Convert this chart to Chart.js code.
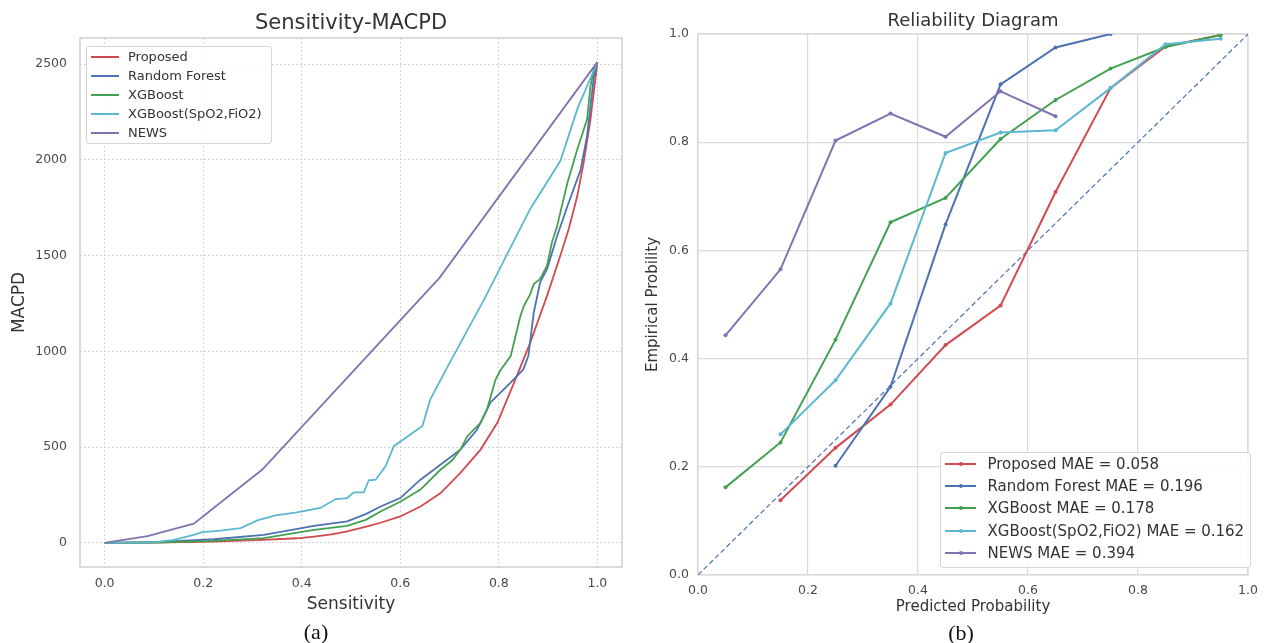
<!DOCTYPE html>
<html><head><meta charset="utf-8">
<script src="https://cdn.jsdelivr.net/npm/chart.js@4.4.1/dist/chart.umd.min.js"></script>
<style>
html,body{margin:0;padding:0;background:#fff;width:1266px;height:643px;overflow:hidden;font-family:"DejaVu Sans",sans-serif;}
.box{position:absolute;}
.leg{position:absolute;box-sizing:border-box;border:1px solid #d6d6d6;border-radius:3px;background:rgba(255,255,255,0.85);}
.item{position:absolute;left:0;right:0;color:#333;white-space:nowrap;}
.sw{position:absolute;}
.dot{position:absolute;border-radius:50%;}
.cap{position:absolute;font-family:"Liberation Serif","DejaVu Serif",serif;font-size:22px;color:#111;transform:translate(-50%,-50%);}
</style></head><body>
<div class="box" style="left:0;top:0;width:640px;height:622px"><canvas id="c1"></canvas></div>
<div class="box" style="left:640px;top:0;width:626px;height:622px"><canvas id="c2"></canvas></div>
<div id="leg1" class="leg" style="left:86px;top:46px;width:186px;height:98px"></div>
<div id="leg2" class="leg" style="left:940px;top:452px;width:311px;height:116px"></div>
<div class="cap" style="left:316px;top:632px">(a)</div>
<div class="cap" style="left:961px;top:633px">(b)</div>
<script>
// ---- data ----
const seriesNames = ['Proposed', 'Random Forest', 'XGBoost', 'XGBoost(SpO2,FiO2)', 'NEWS'];
const maeValues = ['0.058', '0.196', '0.178', '0.162', '0.394'];
const seriesColors = ['#D04A50', '#4C72B0', '#42A150', '#5BB8D0', '#8172B2'];

const sensTicks = [0, 0.2, 0.4, 0.6, 0.8, 1.0];
const macpdTicks = [0, 500, 1000, 1500, 2000, 2500];
const probTicks = [0, 0.2, 0.4, 0.6, 0.8, 1.0];

// Sensitivity-MACPD curves: [sensitivity, MACPD]
const macpdProposed = [[0,0],[0.1,2],[0.22,7],[0.32,16],[0.39,24],[0.425,33],[0.46,44],[0.49,59],[0.533,86],[0.56,105],[0.6,138],[0.641,190],[0.682,260],[0.722,365],[0.763,487],[0.797,627],[0.83,830],[0.864,1047],[0.898,1291],[0.925,1500],[0.942,1640],[0.959,1808],[0.972,1983],[0.986,2210],[1.0,2510]];
const macpdRF = [[0,0],[0.1,4],[0.222,19],[0.323,42],[0.425,89],[0.492,112],[0.53,150],[0.56,190],[0.6,234],[0.641,330],[0.682,409],[0.722,487],[0.756,592],[0.783,733],[0.824,837],[0.85,907],[0.86,977],[0.871,1204],[0.884,1361],[0.898,1431],[0.918,1600],[0.939,1756],[0.966,1948],[0.979,2123],[0.993,2437],[1.0,2510]];
const macpdXGB = [[0,0],[0.1,2],[0.222,10],[0.323,25],[0.425,68],[0.492,89],[0.53,120],[0.56,164],[0.6,215],[0.641,278],[0.682,383],[0.705,430],[0.722,487],[0.736,557],[0.763,627],[0.776,697],[0.793,850],[0.803,900],[0.824,975],[0.834,1080],[0.844,1186],[0.851,1238],[0.864,1300],[0.871,1352],[0.884,1378],[0.898,1448],[0.908,1571],[0.918,1650],[0.939,1878],[0.959,2053],[0.979,2210],[0.986,2385],[0.993,2472],[1.0,2510]];
const macpdXGBSp = [[0,0],[0.1,3],[0.14,16],[0.181,42],[0.198,56],[0.235,64],[0.276,77],[0.31,117],[0.347,143],[0.39,159],[0.438,182],[0.469,229],[0.492,234],[0.506,264],[0.526,264],[0.536,327],[0.55,330],[0.56,365],[0.57,400],[0.587,505],[0.645,610],[0.661,750],[0.695,915],[0.77,1270],[0.864,1745],[0.925,1995],[0.96,2270],[1.0,2510]];
const macpdNEWS = [[0,0],[0.087,35],[0.181,100],[0.32,383],[0.68,1385],[1.0,2510]];

// Reliability diagram: bin centers and empirical probability
const binCenters = [0.05, 0.15, 0.25, 0.35, 0.45, 0.55, 0.65, 0.75, 0.85, 0.95];
const relProposed = [null, 0.138, 0.235, 0.315, 0.425, 0.498, 0.708, 0.90, 0.977, 0.998];
const relRF = [null, null, 0.202, 0.348, 0.648, 0.907, 0.975, 1.0, null, null];
const relXGB = [0.162, 0.245, 0.435, 0.652, 0.697, 0.806, 0.878, 0.936, 0.976, 0.998];
const relXGBSp = [null, 0.26, 0.36, 0.502, 0.78, 0.818, 0.822, 0.90, 0.981, 0.991];
const relNEWS = [0.443, 0.565, 0.803, 0.853, 0.81, 0.894, 0.848, null, null, null];
const perfectCalib = [0, 1];

// ---- helpers ----
const FONT = '"DejaVu Sans", sans-serif';
const pairs = a => a.map(p => ({x: p[0], y: p[1]}));
const bins = a => binCenters.map((x, i) => ({x, y: a[i]})).filter(p => p.y !== null);

const framePlugin = {
  id: 'frame',
  beforeDatasetsDraw(chart, args, opts) {
    const {ctx, chartArea: a} = chart;
    ctx.save();
    ctx.strokeStyle = opts.color; ctx.lineWidth = opts.width;
    ctx.strokeRect(a.left, a.top, a.right - a.left, a.bottom - a.top);
    ctx.restore();
  }
};

// ---- left chart ----
const macpdSeries = [macpdProposed, macpdRF, macpdXGB, macpdXGBSp, macpdNEWS];
new Chart(document.getElementById('c1'), {
  type: 'line',
  data: {
    datasets: macpdSeries.map((s, i) => ({
      label: seriesNames[i], data: pairs(s), borderColor: seriesColors[i], backgroundColor: seriesColors[i],
      borderWidth: 1.8, pointRadius: 0, tension: 0, fill: false, order: 5 - i
    }))
  },
  options: {
    responsive: true, maintainAspectRatio: false, animation: false, devicePixelRatio: 1,
    layout: {padding: {left: 0, right: 18, top: 0, bottom: 0}},
    plugins: {
      legend: {display: false}, tooltip: {enabled: false},
      title: {display: true, fullSize: false, text: 'Sensitivity-MACPD', color: '#333', font: {family: FONT, size: 21, weight: 'normal'}, padding: {top: 11, bottom: 1.8}},
      frame: {color: '#cfcfcf', width: 1.5}
    },
    scales: {
      x: {
        type: 'linear', min: -0.05, max: 1.05,
        afterBuildTicks: s => { s.ticks = sensTicks.map(v => ({value: v})); },
        afterFit: s => { s.height = 55; },
        ticks: {color: '#4a4a4a', font: {family: FONT, size: 12.5}, padding: 9, maxRotation: 0, callback: v => Number(v).toFixed(1)},
        grid: {color: '#d4d4d4', lineWidth: 1, drawTicks: false},
        border: {display: false, dash: [2, 2]},
        title: {display: true, text: 'Sensitivity', color: '#333', font: {family: FONT, size: 17}, padding: {top: 7, bottom: 7}}
      },
      y: {
        type: 'linear', min: -126, max: 2636,
        afterBuildTicks: s => { s.ticks = macpdTicks.map(v => ({value: v})); },
        afterFit: s => { s.width = 80; },
        ticks: {color: '#4a4a4a', font: {family: FONT, size: 12.5}, padding: 13, callback: v => String(v)},
        grid: {color: '#d4d4d4', lineWidth: 1, drawTicks: false},
        border: {display: false, dash: [2, 2]},
        title: {display: true, text: 'MACPD', color: '#333', font: {family: FONT, size: 17}, padding: {top: 9, bottom: 9}}
      }
    }
  },
  plugins: [framePlugin]
});

// ---- right chart ----
const relSeries = [relProposed, relRF, relXGB, relXGBSp, relNEWS];
const relDatasets = relSeries.map((s, i) => ({
  label: seriesNames[i] + ' MAE = ' + maeValues[i], data: bins(s), borderColor: seriesColors[i], backgroundColor: seriesColors[i],
  borderWidth: 2, pointRadius: 2, pointBorderWidth: 0, pointHoverRadius: 2, tension: 0, fill: false, order: 5 - i
}));
relDatasets.push({
  label: 'Perfectly calibrated', data: perfectCalib.map(v => ({x: v, y: v})), borderColor: '#4C72B0',
  borderWidth: 1.2, borderDash: [5, 3], pointRadius: 0, tension: 0, fill: false, order: 10
});
new Chart(document.getElementById('c2'), {
  type: 'line',
  data: {datasets: relDatasets},
  options: {
    responsive: true, maintainAspectRatio: false, animation: false, devicePixelRatio: 1,
    layout: {padding: {left: 0, right: 12, top: 0, bottom: 0}},
    plugins: {
      legend: {display: false}, tooltip: {enabled: false},
      title: {display: true, fullSize: false, text: 'Reliability Diagram', color: '#333', font: {family: FONT, size: 18, weight: 'normal'}, padding: {top: 11, bottom: 1.4}},
      frame: {color: '#dadada', width: 1.2}
    },
    scales: {
      x: {
        type: 'linear', min: 0, max: 1,
        afterBuildTicks: s => { s.ticks = probTicks.map(v => ({value: v})); },
        afterFit: s => { s.height = 47; },
        ticks: {color: '#4a4a4a', font: {family: FONT, size: 12.5}, padding: 8, maxRotation: 0, callback: v => Number(v).toFixed(1)},
        grid: {color: '#dadada', lineWidth: 1.2, drawTicks: false},
        border: {display: false},
        title: {display: true, text: 'Predicted Probability', color: '#333', font: {family: FONT, size: 15}, padding: {top: 6, bottom: 6}}
      },
      y: {
        type: 'linear', min: 0, max: 1,
        afterBuildTicks: s => { s.ticks = probTicks.map(v => ({value: v})); },
        afterFit: s => { s.width = 58; },
        ticks: {color: '#4a4a4a', font: {family: FONT, size: 12.5}, padding: 9, callback: v => Number(v).toFixed(1)},
        grid: {color: '#dadada', lineWidth: 1.2, drawTicks: false},
        border: {display: false},
        title: {display: true, text: 'Empirical Probility', color: '#333', font: {family: FONT, size: 15}, padding: {top: 4, bottom: 4}}
      }
    }
  },
  plugins: [framePlugin]
});

// ---- legends (HTML) ----
function buildLegend(el, labels, opt) {
  labels.forEach((t, i) => {
    const row = document.createElement('div');
    row.className = 'item';
    row.style.top = (opt.first + opt.step * i - opt.h / 2) + 'px';
    row.style.height = opt.h + 'px';
    row.style.lineHeight = opt.h + 'px';
    row.style.fontSize = opt.fs + 'px';
    const sw = document.createElement('span');
    sw.className = 'sw';
    sw.style.cssText = `left:${opt.swL}px;width:${opt.swW}px;top:${opt.h / 2 - 1}px;height:2px;background:${seriesColors[i]}`;
    row.appendChild(sw);
    if (opt.dot) {
      const d = document.createElement('span');
      d.className = 'dot';
      d.style.cssText = `left:${opt.swL + opt.swW / 2 - 2}px;top:${opt.h / 2 - 2}px;width:4px;height:4px;background:${seriesColors[i]}`;
      row.appendChild(d);
    }
    const tx = document.createElement('span');
    tx.style.cssText = `position:absolute;left:${opt.txL}px;top:0`;
    tx.textContent = t;
    row.appendChild(tx);
    el.appendChild(row);
  });
}
buildLegend(document.getElementById('leg1'), seriesNames, {first: 9.7, step: 19, h: 18, fs: 13, swL: 4, swW: 28, txL: 41, dot: false});
buildLegend(document.getElementById('leg2'), seriesNames.map((n, i) => n + ' MAE = ' + maeValues[i]),
  {first: 10.5, step: 22.35, h: 20, fs: 15, swL: 4, swW: 31, txL: 46.5, dot: true});
</script>
</body></html>
